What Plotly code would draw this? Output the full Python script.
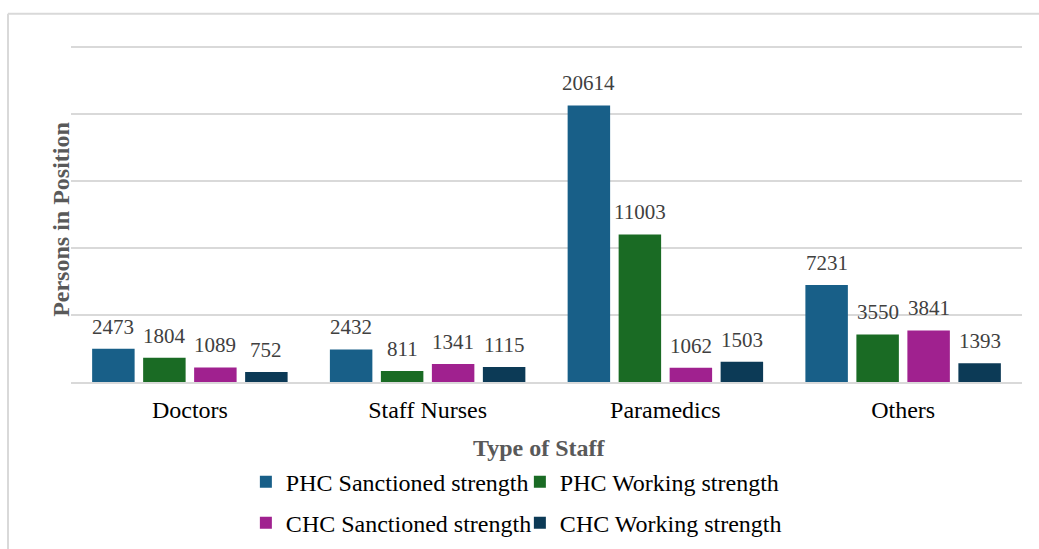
import plotly.graph_objects as go

categories = ["Doctors", "Staff Nurses", "Paramedics", "Others"]
series_names = ["PHC Sanctioned strength", "PHC Working strength",
                "CHC Sanctioned strength", "CHC Working strength"]
phc_sanctioned = [2473, 2432, 20614, 7231]
phc_working = [1804, 811, 11003, 3550]
chc_sanctioned = [1089, 1341, 1062, 3841]
chc_working = [752, 1115, 1503, 1393]

series_values = [phc_sanctioned, phc_working, chc_sanctioned, chc_working]
colors = ["#185f88", "#1a6b24", "#a0218f", "#0c3a56"]
legend_ids = ["legend", "legend", "legend2", "legend2"]

FONT = "Liberation Serif"
Y_MAX = 25200
FIG_W, FIG_H = 1039, 557
K = FIG_H / 549  # vertical layout factor


def ky(y):
    return y * K


# plot area in pixels (reference coordinates scaled vertically)
L, R = 71, 1022
B = ky(381)
T = B - ky(335) * Y_MAX / 25000
W, H = R - L, B - T
CAT_W = W / len(categories)
BARGAP, GROUPGAP = 0.142, 0.167
SLOT = CAT_W * (1 - BARGAP) / len(series_names)


def px(x):
    return (x - L) / W


def py(y):
    return (B - ky(y)) / H


fig = go.Figure()
annotations = []
for i, (name, vals, col, lg) in enumerate(zip(series_names, series_values, colors, legend_ids)):
    fig.add_trace(go.Bar(
        x=categories, y=vals, name=name,
        marker=dict(color=col, line=dict(width=0)),
        legend=lg, hoverinfo="skip",
    ))
    for c, v in zip(categories, vals):
        annotations.append(dict(
            x=c, y=v, xref="x", yref="y", text=str(v), showarrow=False,
            xshift=(i - 1.5) * SLOT, yshift=ky(8), yanchor="bottom", xanchor="center",
            font=dict(family=FONT, size=21, color="#404040"),
        ))

annotations += [
    dict(text="<b>Persons in Position</b>", x=px(61), y=py(219),
         xref="paper", yref="paper", textangle=-90, showarrow=False,
         xanchor="center", yanchor="middle",
         font=dict(family=FONT, size=24, color="#595959")),
    dict(text="<b>Type of Staff</b>", x=px(539), y=py(447),
         xref="paper", yref="paper", showarrow=False,
         xanchor="center", yanchor="middle",
         font=dict(family=FONT, size=24, color="#595959")),
]

fig.update_layout(
    width=FIG_W, height=FIG_H,
    margin=dict(l=L, r=FIG_W - R, t=T, b=FIG_H - B),
    paper_bgcolor="white", plot_bgcolor="white",
    barmode="group", bargap=BARGAP, bargroupgap=GROUPGAP,
    font=dict(family=FONT, color="#000000"),
    xaxis=dict(
        showline=True, linecolor="#d9d9d9", linewidth=2,
        ticks="outside", ticklen=ky(5), tickcolor="rgba(0,0,0,0)",
        tickfont=dict(family=FONT, size=24, color="#000000"),
    ),
    yaxis=dict(
        range=[0, Y_MAX], dtick=5000, showticklabels=False,
        showgrid=True, gridcolor="#d9d9d9", gridwidth=1.5,
        zeroline=False,
    ),
    legend=dict(
        orientation="h", x=0.472, xanchor="center", y=py(481), yanchor="middle",
        font=dict(family=FONT, size=24, color="#000000"),
        entrywidth=229, bgcolor="rgba(0,0,0,0)",
    ),
    legend2=dict(
        orientation="h", x=0.472, xanchor="center", y=py(522), yanchor="middle",
        font=dict(family=FONT, size=24, color="#000000"),
        entrywidth=229, bgcolor="rgba(0,0,0,0)",
    ),
    showlegend=True,
    annotations=annotations,
    shapes=[
        dict(type="line", xref="paper", yref="paper",
             x0=px(8), x1=px(FIG_W), y0=py(13), y1=py(13),
             line=dict(color="#d9d9d9", width=2), layer="below"),
        dict(type="line", xref="paper", yref="paper",
             x0=px(8), x1=px(8), y0=py(13), y1=py(549),
             line=dict(color="#d9d9d9", width=2), layer="below"),
    ],
)

fig.write_html(
    "out.html",
    config={"displayModeBar": False},
    post_script=(
        "document.body.style.margin='0';"
        "document.body.style.overflow='hidden';"
        "document.documentElement.style.overflow='hidden';"
    ),
)
